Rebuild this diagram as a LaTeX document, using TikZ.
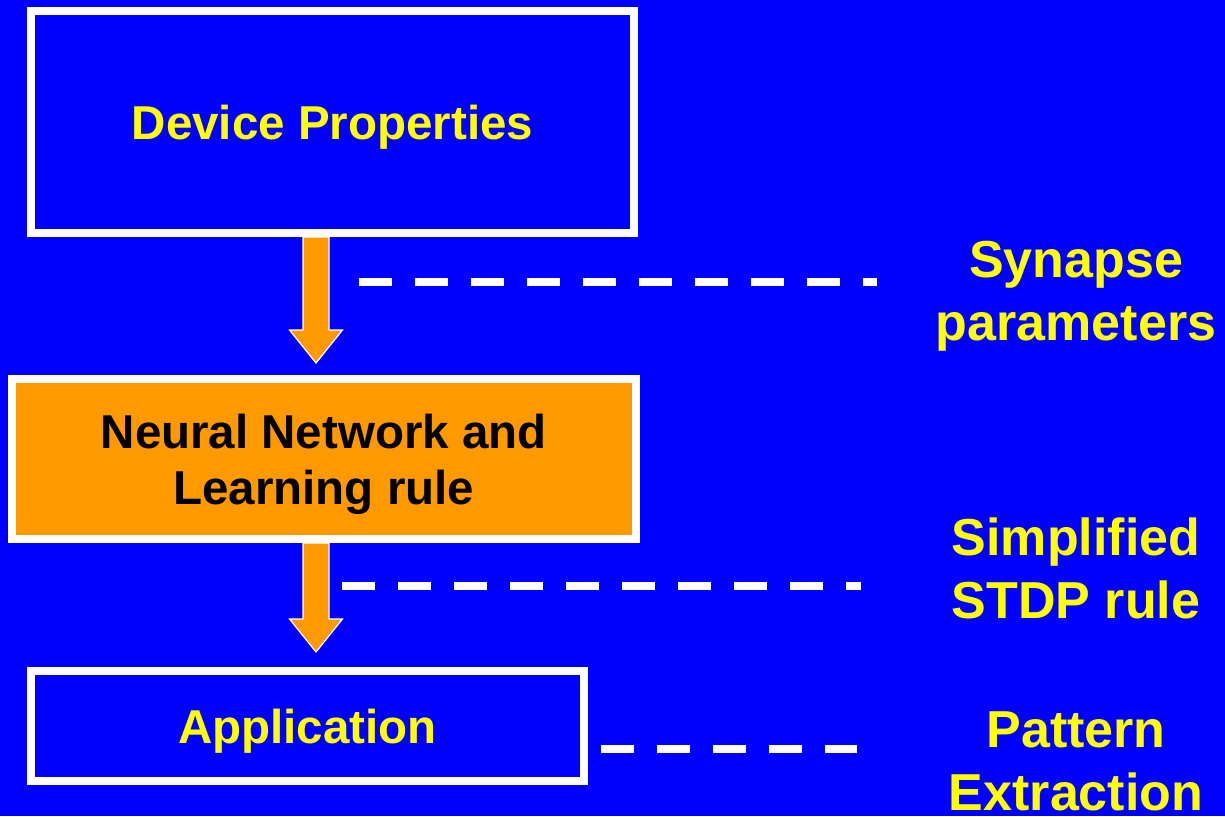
\documentclass[tikz,border=0pt]{standalone}
\usepackage{fontspec}
\setmainfont{Liberation Sans}
\usepackage{tikz}
\usetikzlibrary{calc}

\definecolor{bgblue}{HTML}{0000FF}
\definecolor{boxorange}{HTML}{FF9900}
\definecolor{txtyellow}{HTML}{FFFF00}

\tikzset{
  stage/.style={draw=white, line width=8pt, inner sep=0pt, align=center, text depth=0pt,
    font=\bfseries\fontsize{47.5}{56}\selectfont, text=txtyellow},
  sidelabel/.style={inner sep=0pt, align=center,
    font=\bfseries\fontsize{52}{63}\selectfont, text=txtyellow},
  dashline/.style={draw=white, line width=8pt, dash pattern=on 33pt off 23pt},
  arrowbody/.style={fill=boxorange, draw=white, line width=1.2pt, line join=miter}
}

% 粗箭头: 起点 #1, 箭头尖 #2
\newcommand{\fatarrow}[2]{%
  \draw[arrowbody] ($(#1)+(-13,0)$) -- ($(#2)+(-13,-33)$) -- ($(#2)+(-26.5,-33)$)
    -- (#2) -- ($(#2)+(26.5,-33)$) -- ($(#2)+(13,-33)$) -- ($(#1)+(13,0)$) -- cycle;}

\begin{document}
\begin{tikzpicture}[x=1pt, y=-1pt]
    % 背景
    \fill[bgblue] (0,0) rectangle (1225,816);
    \useasboundingbox (0,0) rectangle (1225,816);

    % 三个方框
    \node[stage, minimum width=603pt, minimum height=222pt] (dev) at (332.5,122) {Device Properties};
    \node[stage, fill=boxorange, text=black, minimum width=624.5pt, minimum height=160pt] (nn) at (323.75,459)
        {Neural Network and~\\Learning rule};
    \node[stage, minimum width=553pt, minimum height=110pt] (app) at (307.5,726) {Application};

    % 右侧说明文字
    \node[sidelabel] (syn) at (1076,296) {Synapse\\parameters};
    \node[sidelabel] (stdp) at (1076,568) {Simplified\\STDP rule};
    \node[sidelabel] (pat) at (1076,761) {Pattern\\Extraction};

    % 箭头
    \coordinate (ax) at (316,0);
    \coordinate (tip1) at ($(nn.north -| ax)+(0,-12)$);
    \coordinate (tip2) at ($(app.north -| ax)+(0,-15)$);
    \fatarrow{dev.south -| ax}{tip1}
    \fatarrow{nn.south -| ax}{tip2}

    % 虚线
    \coordinate (d1s) at (359,282);
    \coordinate (d1e) at (877,282);
    \coordinate (d2s) at (342,586);
    \coordinate (d2e) at (861,586);
    \coordinate (d3s) at (601,749);
    \coordinate (d3e) at (857,749);
    \draw[dashline] (d1s) -- (d1e);
    \draw[dashline] (d2s) -- (d2e);
    \draw[dashline] (d3s) -- (d3e);
\end{tikzpicture}
\end{document}
